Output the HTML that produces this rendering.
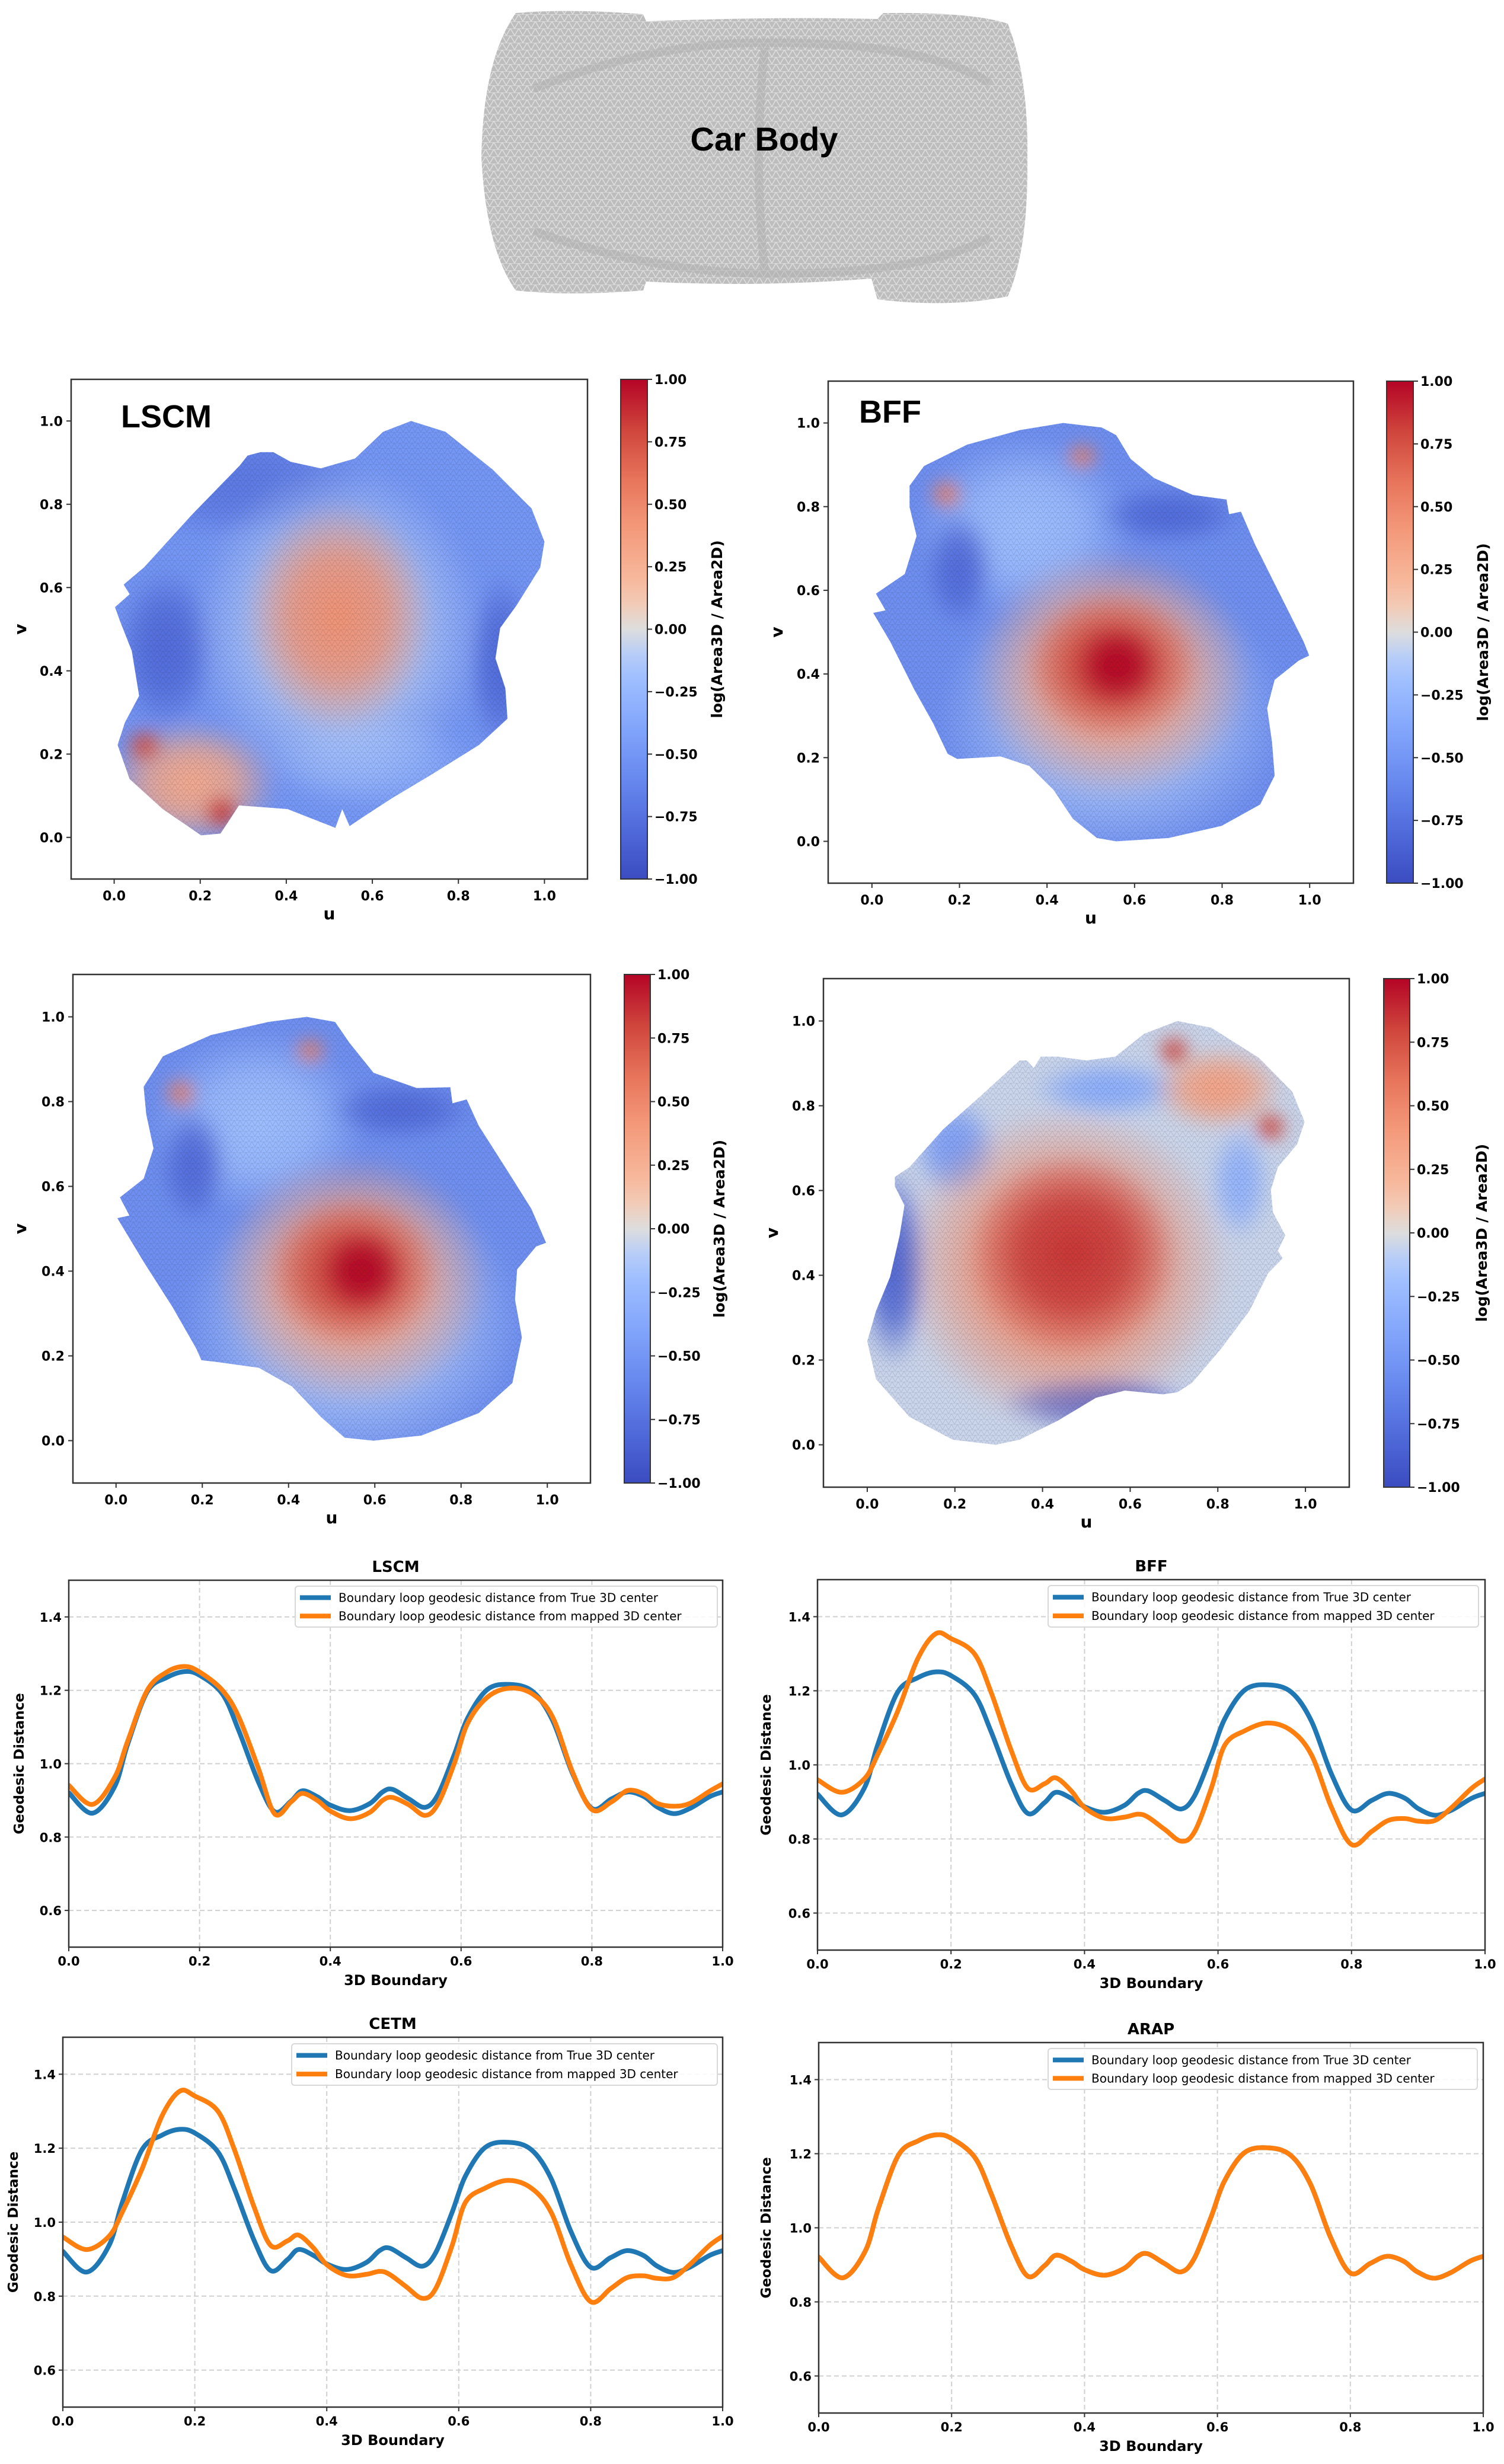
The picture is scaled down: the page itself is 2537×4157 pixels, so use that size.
<!DOCTYPE html>
<html><head><meta charset="utf-8"><title>Car Body parameterization</title>
<style>
html,body{margin:0;padding:0;background:#fff;}
svg{display:block;font-family:"DejaVu Sans","Liberation Sans",sans-serif;}
</style></head>
<body>
<svg id="fig" xmlns="http://www.w3.org/2000/svg" width="2537" height="4157" viewBox="0 0 2537 4157">
<defs>
<pattern id="carmesh" width="14" height="12" patternUnits="userSpaceOnUse">
<rect width="14" height="12" fill="#bdbdbd"/>
<path d="M0 12 L7 0 L14 12 M0 0 H14" stroke="#e0e0e0" stroke-width="1.4" fill="none"/>
</pattern>
<pattern id="mesh" width="10" height="9" patternUnits="userSpaceOnUse">
<path d="M0 9 L5 0 L10 9 M0 0 H10" stroke="#222" stroke-width="0.9" fill="none"/>
</pattern>
<filter id="soft" x="-10%" y="-10%" width="120%" height="120%"><feGaussianBlur stdDeviation="14"/></filter>
</defs>
<g>
<path fill="url(#carmesh)" d="M870 22 Q960 14 1085 24 L1090 36 Q1300 28 1480 32 L1490 22 Q1640 20 1700 40 Q1735 130 1733 265 Q1735 420 1700 500 Q1600 520 1480 505 L1470 470 Q1280 485 1090 475 L1085 490 Q960 500 870 490 Q820 420 812 265 Q815 100 870 22 Z"/>
<path fill="none" stroke="#b0b0b0" stroke-width="14" opacity="0.5" d="M900 150 Q1100 70 1300 72 Q1560 72 1670 140 M900 390 Q1100 460 1300 462 Q1560 462 1670 400 M1290 80 Q1270 265 1290 460"/>
<text x="1289" y="254" text-anchor="middle" font-family="Liberation Sans, sans-serif" font-weight="bold" font-size="56">Car Body</text>
</g>
</svg>
<script>
// ---------- line chart data ----------
const boundaryX = [0,0.036,0.07,0.09,0.12,0.15,0.177,0.2,0.235,0.26,0.29,0.315,0.34,0.357,0.38,0.40,0.43,0.46,0.48,0.495,0.52,0.545,0.565,0.59,0.61,0.64,0.675,0.71,0.74,0.77,0.80,0.83,0.855,0.88,0.90,0.925,0.95,0.98,1.0];
const trueCenter = [0.921,0.865,0.937,1.053,1.196,1.235,1.251,1.241,1.19,1.09,0.95,0.869,0.898,0.926,0.91,0.887,0.872,0.891,0.923,0.930,0.904,0.881,0.917,1.027,1.124,1.202,1.216,1.196,1.118,0.975,0.878,0.904,0.923,0.91,0.882,0.864,0.878,0.91,0.923];
const mappedLSCM = [0.941,0.889,0.962,1.061,1.20,1.25,1.265,1.25,1.20,1.127,0.987,0.863,0.896,0.919,0.90,0.871,0.85,0.867,0.90,0.908,0.888,0.859,0.892,1.003,1.11,1.181,1.206,1.189,1.127,0.979,0.875,0.896,0.927,0.917,0.892,0.884,0.892,0.925,0.945];
const mappedBFF = [0.96,0.926,0.962,1.027,1.144,1.286,1.354,1.341,1.30,1.196,1.04,0.937,0.949,0.965,0.93,0.885,0.856,0.859,0.867,0.859,0.826,0.794,0.82,0.937,1.053,1.092,1.113,1.092,1.027,0.885,0.785,0.82,0.85,0.855,0.848,0.85,0.885,0.937,0.962];
const mappedCETM = [0.96,0.926,0.962,1.027,1.144,1.286,1.354,1.341,1.30,1.196,1.04,0.937,0.949,0.965,0.93,0.885,0.856,0.859,0.867,0.859,0.826,0.794,0.82,0.937,1.053,1.092,1.113,1.092,1.027,0.885,0.785,0.82,0.85,0.855,0.848,0.85,0.885,0.937,0.962];
const mappedARAP = [0.921,0.865,0.937,1.053,1.196,1.235,1.251,1.241,1.19,1.09,0.95,0.869,0.898,0.926,0.91,0.887,0.872,0.891,0.923,0.930,0.904,0.881,0.917,1.027,1.124,1.202,1.216,1.196,1.118,0.975,0.878,0.904,0.923,0.91,0.882,0.864,0.878,0.91,0.923];
const lineXTicks = [0,0.2,0.4,0.6,0.8,1.0];
const lineXTickLabels = ["0.0","0.2","0.4","0.6","0.8","1.0"];
const lineYTicks = [0.6,0.8,1.0,1.2,1.4];
const lineYTickLabels = ["0.6","0.8","1.0","1.2","1.4"];
const legendLabels = ["Boundary loop geodesic distance from True 3D center","Boundary loop geodesic distance from mapped 3D center"];

// ---------- heatmap data ----------
const uvTicks = [0,0.2,0.4,0.6,0.8,1.0];
const uvTickLabels = ["0.0","0.2","0.4","0.6","0.8","1.0"];
const cbTicks = [1,0.75,0.5,0.25,0,-0.25,-0.5,-0.75,-1];
const cbTickLabels = ["1.00","0.75","0.50","0.25","0.00","\u22120.25","\u22120.50","\u22120.75","\u22121.00"];
const outlineLSCM = [[.31,.917],[.34,.925],[.37,.925],[.41,.902],[.48,.886],[.56,.91],[.625,.974],[.69,1.0],[.77,.974],[.88,.883],[.97,.79],[1.0,.71],[.99,.648],[.935,.557],[.897,.503],[.886,.43],[.909,.358],[.914,.285],[.848,.222],[.736,.15],[.647,.095],[.58,.05],[.547,.027],[.53,.068],[.514,.023],[.403,.068],[.29,.077],[.247,.009],[.202,.005],[.113,.068],[.036,.14],[.008,.222],[.025,.276],[.058,.34],[.041,.448],[.013,.521],[.002,.553],[.036,.584],[.022,.607],[.069,.648],[.18,.774],[.292,.893]];
const outlineBFF = [[.086,.85],[.119,.897],[.217,.948],[.338,.983],[.437,1.0],[.525,.989],[.558,.971],[.591,.914],[.645,.868],[.733,.828],[.81,.817],[.816,.782],[.843,.788],[.876,.708],[.931,.593],[.986,.478],[.999,.444],[.975,.432],[.92,.386],[.903,.318],[.914,.237],[.92,.157],[.887,.088],[.799,.037],[.678,.008],[.558,0],[.514,.008],[.459,.054],[.415,.123],[.36,.18],[.294,.203],[.195,.197],[.173,.209],[.14,.282],[.097,.362],[.042,.477],[.003,.546],[.031,.552],[.009,.592],[.075,.639],[.102,.73],[.086,.799]];
const outlineCETM = [[.064,.835],[.109,.907],[.22,.957],[.353,.988],[.442,1.0],[.508,.988],[.541,.939],[.597,.868],[.697,.832],[.775,.834],[.78,.796],[.813,.805],[.841,.743],[.908,.636],[.963,.547],[.997,.467],[.974,.458],[.93,.404],[.925,.333],[.941,.244],[.919,.136],[.841,.065],[.708,.012],[.597,0],[.53,.007],[.475,.056],[.408,.128],[.331,.172],[.231,.186],[.198,.19],[.186,.217],[.131,.315],[.064,.422],[.003,.525],[.031,.531],[.009,.574],[.064,.618],[.087,.69],[.07,.77]];
const outlineARAP = [[.348,.907],[.364,.907],[.38,.889],[.396,.916],[.435,.916],[.5,.907],[.566,.916],[.632,.97],[.708,1.0],[.785,.984],[.894,.913],[.97,.833],[.998,.762],[.981,.709],[.937,.655],[.921,.601],[.926,.548],[.954,.494],[.937,.458],[.948,.44],[.915,.405],[.872,.316],[.807,.226],[.741,.146],[.708,.124],[.675,.119],[.588,.128],[.522,.111],[.435,.057],[.348,.012],[.293,0],[.195,.012],[.096,.066],[.02,.155],[0,.244],[.02,.316],[.052,.396],[.074,.494],[.085,.565],[.063,.61],[.063,.632],[.096,.655],[.173,.744],[.26,.824]];
// blobs: [u, v, radius-u, radius-v, log value]
const baseLSCM = -0.5;
const blobsLSCM = [[.3,.85,.3,.14,-.7],[.12,.45,.12,.2,-.8],[.9,.42,.08,.22,-.8],[.6,.18,.25,.12,-.3],[.52,.5,.34,.4,-.1],[.52,.53,.22,.28,.45],[.18,.13,.2,.15,.3],[.07,.22,.045,.045,.75],[.25,.06,.045,.045,.85]];
const baseBFF = -0.55;
const blobsBFF = [[.35,.75,.25,.22,-.2],[.2,.65,.08,.14,-.8],[.68,.78,.17,.07,-.8],[.55,.3,.4,.34,-.15],[.55,.4,.32,.3,.35],[.55,.42,.2,.18,.8],[.56,.42,.1,.1,1.0],[.17,.83,.04,.04,.55],[.48,.92,.04,.035,.55]];
const baseCETM = -0.55;
const blobsCETM = [[.33,.75,.25,.22,-.2],[.18,.65,.08,.14,-.8],[.66,.78,.17,.07,-.8],[.55,.28,.4,.34,-.15],[.55,.38,.32,.3,.35],[.55,.4,.2,.18,.8],[.57,.4,.1,.1,1.0],[.15,.82,.04,.04,.55],[.45,.92,.04,.035,.55]];
const baseARAP = -0.05;
const blobsARAP = [[.06,.42,.08,.24,-.85],[.52,.1,.22,.07,-.8],[.55,.84,.18,.07,-.35],[.2,.7,.1,.12,-.45],[.85,.62,.07,.14,-.3],[.8,.84,.15,.1,.35],[.45,.42,.38,.38,.45],[.47,.45,.24,.24,.85],[.7,.93,.04,.04,.8],[.92,.75,.04,.04,.8]];

// ---------- helpers ----------
const NS = "http://www.w3.org/2000/svg";
const svg = document.getElementById("fig");
const defs = svg.querySelector("defs");
function mk(tag, attrs, parent){const e=document.createElementNS(NS,tag);for(const k in attrs)e.setAttribute(k,attrs[k]);(parent||svg).appendChild(e);return e;}
const cwStops=[[0,[59,76,192]],[0.1,[80,106,218]],[0.2,[103,136,238]],[0.3,[129,164,251]],[0.4,[158,190,255]],[0.45,[183,205,248]],[0.5,[221,221,221]],[0.55,[242,203,183]],[0.6,[247,184,156]],[0.7,[244,154,123]],[0.8,[231,116,91]],[0.9,[207,69,60]],[1,[180,4,38]]];
function coolwarm(val){const t=Math.max(0,Math.min(1,(val+1)/2));for(let i=1;i<cwStops.length;i++){if(t<=cwStops[i][0]){const a=cwStops[i-1],b=cwStops[i];const f=(t-a[0])/(b[0]-a[0]);const c=a[1].map((x,j)=>Math.round(x+(b[1][j]-x)*f));return "rgb("+c.join(",")+")";}}return "rgb(180,4,38)";}
let gid=0;

// ---------- heatmap panels ----------
function heatmap(cfg){
  const ax=cfg.ax, xmin=-0.1,xmax=1.1,ymin=-0.1,ymax=1.1;
  const sx=u=>ax.x+(u-xmin)/(xmax-xmin)*ax.w;
  const sy=v=>ax.y+ax.h-(v-ymin)/(ymax-ymin)*ax.h;
  const g=mk("g",{});
  
  
  const cid="clip"+(gid++);
  const cp=mk("clipPath",{id:cid},defs);
  const d="M"+cfg.outline.map(p=>sx(p[0]).toFixed(1)+" "+sy(p[1]).toFixed(1)).join(" L")+" Z";
  mk("path",{d:d},cp);
  const mg=mk("g",{"clip-path":"url(#"+cid+")"},g);
  
  
  mk("rect",{x:ax.x,y:ax.y,width:ax.w,height:ax.h,fill:coolwarm(cfg.base)},mg);
  const bg=mk("g",{filter:"url(#soft)"},mg);
  cfg.blobs.forEach(b=>{
    const rid="rg"+(gid++);
    const rg=mk("radialGradient",{id:rid},defs);
    const col=coolwarm(b[4]);
    mk("stop",{offset:"0","stop-color":col,"stop-opacity":"1"},rg);
    mk("stop",{offset:"0.5","stop-color":col,"stop-opacity":"0.8"},rg);
    mk("stop",{offset:"1","stop-color":col,"stop-opacity":"0"},rg);
    const e=mk("ellipse",{cx:sx(b[0]),cy:sy(b[1]),rx:b[2]/(xmax-xmin)*ax.w,ry:b[3]/(ymax-ymin)*ax.h,fill:"url(#"+rid+")"},bg);
    
    
  });
  mk("rect",{x:ax.x,y:ax.y,width:ax.w,height:ax.h,fill:"url(#mesh)",opacity:"0.16"},mg);
  const fr=mk("rect",{x:ax.x,y:ax.y,width:ax.w,height:ax.h,fill:"none",stroke:"#333","stroke-width":"2.5"},g);
  
  
  uvTicks.forEach((t,i)=>{
    mk("line",{x1:sx(t),x2:sx(t),y1:ax.y+ax.h,y2:ax.y+ax.h+8,stroke:"#333","stroke-width":"2"},g);
    const tx=mk("text",{x:sx(t),y:ax.y+ax.h+36,"text-anchor":"middle","font-size":"22","font-weight":"bold"},g);
    tx.textContent=uvTickLabels[i];
    
    
    mk("line",{x1:ax.x-8,x2:ax.x,y1:sy(t),y2:sy(t),stroke:"#333","stroke-width":"2"},g);
    const ty=mk("text",{x:ax.x-14,y:sy(t)+8,"text-anchor":"end","font-size":"22","font-weight":"bold"},g);
    ty.textContent=uvTickLabels[i];
    
    
  });
  const ul=mk("text",{x:ax.x+ax.w/2,y:ax.y+ax.h+68,"text-anchor":"middle","font-size":"28","font-weight":"bold"},g);
  ul.textContent="u";
  
  
  const vl=mk("text",{x:0,y:0,"text-anchor":"middle","font-size":"28","font-weight":"bold",transform:"translate("+(cfg.vx)+","+(ax.y+ax.h/2)+") rotate(-90)"},g);
  vl.textContent="v";
  
  
  if(cfg.title){
    const tt=mk("text",{x:cfg.tx,y:cfg.ty,"font-family":"Liberation Sans, sans-serif","font-size":"54","font-weight":"bold"},g);
    tt.textContent=cfg.title;
    
    
  }
  // colorbar
  const lgid="cbg"+(gid++);
  const lg=mk("linearGradient",{id:lgid,x1:"0",y1:"1",x2:"0",y2:"0"},defs);
  cwStops.forEach(s=>mk("stop",{offset:s[0],"stop-color":"rgb("+s[1].join(",")+")"},lg));
  const cb=mk("rect",{x:cfg.cbx,y:ax.y,width:cfg.cbw,height:ax.h,fill:"url(#"+lgid+")",stroke:"#333","stroke-width":"2"},g);
  
  
  const cy=v=>ax.y+ax.h-(v+1)/2*ax.h;
  cbTicks.forEach((t,i)=>{
    mk("line",{x1:cfg.cbx+cfg.cbw,x2:cfg.cbx+cfg.cbw+8,y1:cy(t),y2:cy(t),stroke:"#333","stroke-width":"2"},g);
    const ct=mk("text",{x:cfg.cbx+cfg.cbw+12,y:cy(t)+8,"font-size":"22","font-weight":"bold"},g);
    ct.textContent=cbTickLabels[i];
    
    
  });
  const cl=mk("text",{x:0,y:0,"text-anchor":"middle","font-size":"25","font-weight":"bold",transform:"translate("+(cfg.cblx)+","+(ax.y+ax.h/2)+") rotate(-90)"},g);
  cl.textContent="log(Area3D / Area2D)";
  
  
}
heatmap({name:"lscm",ax:{x:120,y:640,w:871,h:843},outline:outlineLSCM,base:baseLSCM,blobs:blobsLSCM,cbx:1047,cbw:45,cblx:1218,vx:44,title:"LSCM",tx:204,ty:721});
heatmap({name:"bff",ax:{x:1397,y:643,w:886,h:847},outline:outlineBFF,base:baseBFF,blobs:blobsBFF,cbx:2339,cbw:45,cblx:2510,vx:1320,title:"BFF",tx:1449,ty:713});
heatmap({name:"cetm",ax:{x:123,y:1644,w:873,h:858},outline:outlineCETM,base:baseCETM,blobs:blobsCETM,cbx:1053,cbw:44,cblx:1222,vx:44});
heatmap({name:"arap",ax:{x:1389,y:1651,w:887,h:858},outline:outlineARAP,base:baseARAP,blobs:blobsARAP,cbx:2334,cbw:44,cblx:2508,vx:1312});

// ---------- line charts ----------
function lineChart(cfg){
  const ax=cfg.ax;
  const sx=x=>ax.x+x*ax.w;
  const sy=y=>ax.y+ax.h-(y-0.5)*ax.h;
  const g=mk("g",{});
  
  
  mk("rect",{x:ax.x,y:ax.y,width:ax.w,height:ax.h,fill:"#fff"},g);
  lineXTicks.forEach(t=>{const l=mk("line",{x1:sx(t),x2:sx(t),y1:ax.y,y2:ax.y+ax.h,stroke:"#d0d0d0","stroke-width":"2","stroke-dasharray":"8 5"},g);
    
    });
  lineYTicks.forEach(t=>{const l=mk("line",{x1:ax.x,x2:ax.x+ax.w,y1:sy(t),y2:sy(t),stroke:"#d0d0d0","stroke-width":"2","stroke-dasharray":"8 5"},g);
    
    });
  function smooth(vals){
    const P=boundaryX.map((x,i)=>[sx(x),sy(vals[i])]);
    let d="M"+P[0][0].toFixed(1)+" "+P[0][1].toFixed(1);
    for(let i=0;i<P.length-1;i++){
      const p0=P[Math.max(0,i-1)],p1=P[i],p2=P[i+1],p3=P[Math.min(P.length-1,i+2)];
      const c1=[p1[0]+(p2[0]-p0[0])/6,p1[1]+(p2[1]-p0[1])/6];
      const c2=[p2[0]-(p3[0]-p1[0])/6,p2[1]-(p3[1]-p1[1])/6];
      d+=" C"+c1[0].toFixed(1)+" "+c1[1].toFixed(1)+" "+c2[0].toFixed(1)+" "+c2[1].toFixed(1)+" "+p2[0].toFixed(1)+" "+p2[1].toFixed(1);
    }
    return d;
  }
  const cp="lc"+(gid++);
  const c=mk("clipPath",{id:cp},defs);mk("rect",{x:ax.x,y:ax.y,width:ax.w,height:ax.h},c);
  const pb=mk("path",{d:smooth(trueCenter),fill:"none",stroke:"#1f77b4","stroke-width":"8","stroke-linejoin":"round","stroke-linecap":"round","clip-path":"url(#"+cp+")"},g);
  
  
  const po=mk("path",{d:smooth(cfg.mapped),fill:"none",stroke:"#ff7f0e","stroke-width":"8","stroke-linejoin":"round","stroke-linecap":"round","clip-path":"url(#"+cp+")"},g);
  
  
  const fr=mk("rect",{x:ax.x,y:ax.y,width:ax.w,height:ax.h,fill:"none",stroke:"#333","stroke-width":"2.5"},g);
  
  
  lineXTicks.forEach((t,i)=>{
    mk("line",{x1:sx(t),x2:sx(t),y1:ax.y+ax.h,y2:ax.y+ax.h+7,stroke:"#333","stroke-width":"2"},g);
    const tx=mk("text",{x:sx(t),y:ax.y+ax.h+31,"text-anchor":"middle","font-size":"21","font-weight":"bold"},g);
    tx.textContent=lineXTickLabels[i];
    
    
  });
  lineYTicks.forEach((t,i)=>{
    mk("line",{x1:ax.x-7,x2:ax.x,y1:sy(t),y2:sy(t),stroke:"#333","stroke-width":"2"},g);
    const ty=mk("text",{x:ax.x-12,y:sy(t)+8,"text-anchor":"end","font-size":"21","font-weight":"bold"},g);
    ty.textContent=lineYTickLabels[i];
    
    
  });
  const xl=mk("text",{x:ax.x+ax.w/2,y:ax.y+ax.h+64,"text-anchor":"middle","font-size":"24","font-weight":"bold"},g);
  xl.textContent="3D Boundary";
  
  
  const yl=mk("text",{x:0,y:0,"text-anchor":"middle","font-size":"23","font-weight":"bold",transform:"translate("+(cfg.ylx)+","+(ax.y+ax.h/2)+") rotate(-90)"},g);
  yl.textContent="Geodesic Distance";
  
  
  const tt=mk("text",{x:ax.x+ax.w/2,y:ax.y-14,"text-anchor":"middle","font-size":"26","font-weight":"bold"},g);
  tt.textContent=cfg.title;
  
  
  const L=cfg.legend;
  const lgG=mk("g",{},g);
  
  
  mk("rect",{x:L.x,y:L.y,width:L.w,height:L.h,rx:"5",fill:"#fff","fill-opacity":"0.85",stroke:"#d8d8d8","stroke-width":"2"},lgG);
  [["#1f77b4",0.28],["#ff7f0e",0.73]].forEach((s,i)=>{
    const yy=L.y+L.h*s[1];
    mk("line",{x1:L.x+8,x2:L.x+60,y1:yy,y2:yy,stroke:s[0],"stroke-width":"8"},lgG);
    const lt=mk("text",{x:L.x+73,y:yy+7,"font-size":"20"},lgG);
    lt.textContent=legendLabels[i];
    
    
  });
}
lineChart({name:"lscm",title:"LSCM",mapped:mappedLSCM,ax:{x:116,y:2666,w:1103,h:619},legend:{x:498,y:2676,w:712,h:69},ylx:40});
lineChart({name:"bff",title:"BFF",mapped:mappedBFF,ax:{x:1379,y:2665,w:1126,h:625},legend:{x:1768,y:2675,w:726,h:70},ylx:1300});
lineChart({name:"cetm",title:"CETM",mapped:mappedCETM,ax:{x:106,y:3437,w:1113,h:624},legend:{x:492,y:3448,w:718,h:70},ylx:30});
lineChart({name:"arap",title:"ARAP",mapped:mappedARAP,ax:{x:1381,y:3446,w:1121,h:625},legend:{x:1768,y:3456,w:724,h:69},ylx:1300});
</script>
</body></html>
